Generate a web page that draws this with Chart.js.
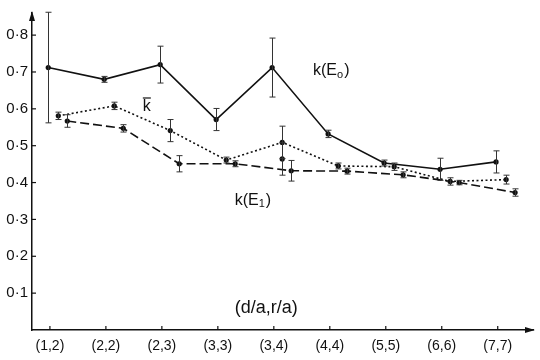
<!DOCTYPE html>
<html>
<head>
<meta charset="UTF-8">
<title>k vs (d/a, r/a)</title>
<script src="https://cdn.jsdelivr.net/npm/chart.js"></script>
<style>
    body { margin: 0; background: #fff; }
    #wrap { width: 540px; height: 360px; }
</style>
</head>
<body>
<div id="wrap"><canvas id="chart"></canvas></div>
<script>
    // categories on the x axis
    const categories = ['(1,2)', '(2,2)', '(2,3)', '(3,3)', '(3,4)', '(4,4)', '(5,5)', '(6,6)', '(7,7)'];
    const yTicks = [0.1, 0.2, 0.3, 0.4, 0.5, 0.6, 0.7, 0.8];

    // k(E0) - solid
    const kE0 = [0.712, 0.680, 0.720, 0.571, 0.712, 0.532, 0.453, 0.436, 0.456];
    const kE0Err = [0.150, 0.008, 0.050, 0.030, 0.080, 0.010, 0.008, 0.030, 0.030];
    // k bar - dotted
    const kBar = [0.581, 0.608, 0.541, 0.461, 0.509, 0.445, 0.443, 0.403, 0.408];
    const kBarErr = [0.010, 0.010, 0.030, 0.008, 0.044, 0.008, 0.010, 0.010, 0.012];
    // extra lone point on the (3,4) bar
    const kBarExtraCat = [4];
    const kBarExtra = [0.464];
    const kBarExtraErr = [0.044];
    // k(E1) - dashed
    const kE1 = [0.567, 0.547, 0.451, 0.451, 0.432, 0.431, 0.421, 0.400, 0.373];
    const kE1Err = [0.017, 0.010, 0.022, 0.008, 0.028, 0.008, 0.008, 0.006, 0.010];

    const INK = '#111';
    const FONT = "'Liberation Sans', Arial, sans-serif";

    function pts(vals, shift, cats) {
        return vals.map((v, i) => ({ x: (cats ? cats[i] : i) + shift, y: v }));
    }

    function series(vals, errs, shift, dash, cats) {
        return {
            data: pts(vals, shift, cats),
            errors: errs,
            showLine: !cats,
            borderColor: INK,
            backgroundColor: INK,
            borderWidth: 1.6,
            borderDash: dash,
            pointRadius: 2.6,
            pointBorderWidth: 0,
            pointBackgroundColor: INK,
            tension: 0
        };
    }

    // error bars, inner tick marks, axis arrows and text labels
    const extras = {
        id: 'extras',
        afterDatasetsDraw(chart) {
            const ctx = chart.ctx;
            const xs = chart.scales.x, ys = chart.scales.y;
            const area = chart.chartArea;
            ctx.save();

            // error bars
            chart.data.datasets.forEach(ds => {
                ctx.strokeStyle = '#333';
                ctx.lineWidth = 1;
                ctx.setLineDash([]);
                ds.data.forEach((p, i) => {
                    const e = ds.errors[i];
                    const x = Math.round(xs.getPixelForValue(p.x)) + 0.5;
                    const y1 = ys.getPixelForValue(p.y + e);
                    const y2 = ys.getPixelForValue(p.y - e);
                    ctx.beginPath();
                    ctx.moveTo(x, y1); ctx.lineTo(x, y2);
                    ctx.moveTo(x - 3, y1); ctx.lineTo(x + 3, y1);
                    ctx.moveTo(x - 3, y2); ctx.lineTo(x + 3, y2);
                    ctx.stroke();
                });
            });

            // tick marks pointing into the plot
            ctx.strokeStyle = INK;
            ctx.lineWidth = 1.2;
            yTicks.forEach(v => {
                const y = ys.getPixelForValue(v);
                ctx.beginPath();
                ctx.moveTo(area.left, y); ctx.lineTo(area.left + 4, y);
                ctx.stroke();
            });
            categories.forEach((c, i) => {
                const x = xs.getPixelForValue(i);
                ctx.beginPath();
                ctx.moveTo(x, area.bottom); ctx.lineTo(x, area.bottom - 4);
                ctx.stroke();
            });

            // arrow heads
            ctx.fillStyle = INK;
            ctx.beginPath();
            ctx.moveTo(area.left, area.top - 2);
            ctx.lineTo(area.left - 3, area.top + 8);
            ctx.lineTo(area.left + 3, area.top + 8);
            ctx.closePath(); ctx.fill();
            ctx.beginPath();
            ctx.moveTo(area.right + 2, area.bottom);
            ctx.lineTo(area.right - 8, area.bottom - 3);
            ctx.lineTo(area.right - 8, area.bottom + 3);
            ctx.closePath(); ctx.fill();

            // labels
            ctx.fillStyle = INK;
            ctx.textBaseline = 'middle';
            ctx.textAlign = 'left';

            function subLabel(x, y, sub) {
                ctx.font = '16px ' + FONT;
                ctx.fillText('k(E', x, y);
                let w = ctx.measureText('k(E').width;
                ctx.font = '11px ' + FONT;
                ctx.fillText(sub, x + w, y + 4);
                w += ctx.measureText(sub).width + 1;
                ctx.font = '16px ' + FONT;
                ctx.fillText(')', x + w, y);
            }
            subLabel(xs.getPixelForValue(4.7), ys.getPixelForValue(0.704), 'o');
            subLabel(xs.getPixelForValue(3.3), ys.getPixelForValue(0.352), '1');

            // k with an overbar
            const kx = xs.getPixelForValue(1.66), ky = ys.getPixelForValue(0.605);
            ctx.font = '16px ' + FONT;
            ctx.fillText('k', kx, ky);
            const kw = ctx.measureText('k').width;
            ctx.lineWidth = 1.2;
            ctx.beginPath();
            ctx.moveTo(kx, ky - 9); ctx.lineTo(kx + kw, ky - 9);
            ctx.stroke();

            ctx.font = '18px ' + FONT;
            ctx.fillText('(d/a,r/a)', xs.getPixelForValue(3.3), ys.getPixelForValue(0.059));
            ctx.restore();
        }
    };

    new Chart(document.getElementById('chart'), {
        type: 'scatter',
        data: {
            datasets: [
                series(kE0, kE0Err, -0.03, []),
                series(kBar, kBarErr, 0.15, [2, 2.5]),
                series(kBarExtra, kBarExtraErr, 0.15, [], kBarExtraCat),
                series(kE1, kE1Err, 0.31, [9, 4])
            ]
        },
        options: {
            responsive: true,
            maintainAspectRatio: false,
            animation: false,
            layout: { padding: { top: 8, right: 7, left: 0, bottom: 0 } },
            plugins: {
                legend: { display: false },
                tooltip: { enabled: false }
            },
            scales: {
                x: {
                    type: 'linear',
                    min: -0.32,
                    max: 8.63,
                    grid: { display: false, drawTicks: false },
                    border: { display: true, color: INK, width: 1.5 },
                    afterBuildTicks: s => { s.ticks = categories.map((c, i) => ({ value: i })); },
                    afterFit: s => { s.height = 30; },
                    ticks: {
                        padding: 8,
                        color: INK,
                        font: { family: FONT, size: 14 },
                        maxRotation: 0,
                        autoSkip: false,
                        callback: v => categories[v]
                    }
                },
                y: {
                    min: 0,
                    max: 0.86,
                    grid: { display: false, drawTicks: false },
                    border: { display: true, color: INK, width: 1.5 },
                    afterBuildTicks: s => { s.ticks = yTicks.map(v => ({ value: v })); },
                    afterFit: s => { s.width = 32; },
                    ticks: {
                        padding: 4,
                        color: INK,
                        font: { family: FONT, size: 15 },
                        callback: v => v.toFixed(1).replace('.', '·')
                    }
                }
            }
        },
        plugins: [extras]
    });
</script>
</body>
</html>
